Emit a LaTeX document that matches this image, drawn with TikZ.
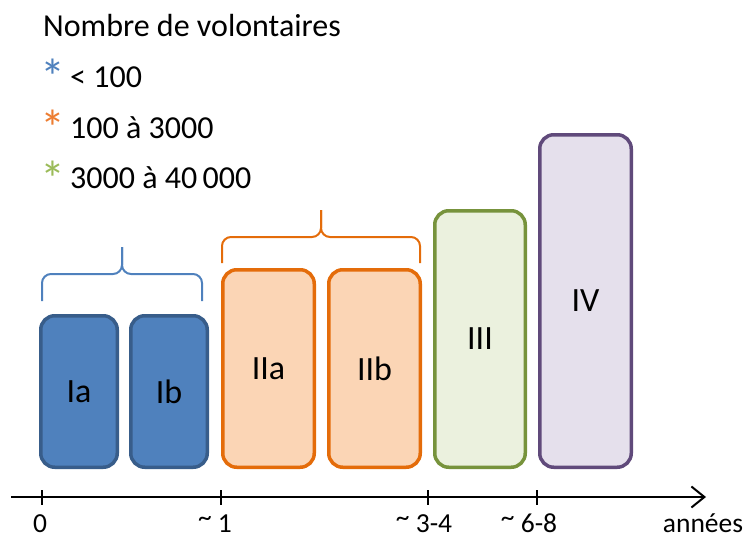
\documentclass[tikz,border=0pt]{standalone}
\usepackage{fontspec}
\setmainfont{Carlito}
\usetikzlibrary{arrows.meta}
\definecolor{phblue}{RGB}{79,129,189}
\definecolor{phbluedk}{RGB}{56,93,138}
\definecolor{phorange}{RGB}{251,213,181}
\definecolor{phorangedk}{RGB}{228,108,10}
\definecolor{phgreen}{RGB}{235,241,222}
\definecolor{phgreendk}{RGB}{119,147,60}
\definecolor{phpurple}{RGB}{229,224,236}
\definecolor{phpurpledk}{RGB}{96,74,123}
\definecolor{starblue}{RGB}{79,129,189}
\definecolor{starorange}{RGB}{237,125,49}
\definecolor{stargreen}{RGB}{155,187,89}

\newcommand{\approxmark}{\raisebox{0.22em}{\textasciitilde}\ }

\tikzset{
  phasebox/.style={draw, rounded corners=14pt, line width=3.5pt, inner sep=0pt,
    font=\fontsize{34}{40}\selectfont},
  legtext/.style={anchor=base west, inner sep=0pt, font=\fontsize{32}{38}\selectfont},
  legstar/.style={anchor=north, inner sep=0pt, font=\fontsize{50}{54}\selectfont},
  axlabel/.style={anchor=base, inner sep=0pt, font=\fontsize{27.5}{32}\selectfont},
  phbrace/.style={line width=2pt, rounded corners=9pt}
}

\begin{document}
\begin{tikzpicture}[x=1pt,y=-1pt]
  \useasboundingbox (0,0) rectangle (752,538);
  % legend
  \node[legtext] (legtitle) at (43,36) {Nombre de volontaires};
  \node[legstar, starblue] (star1) at (53,59) {*};
  \node[legtext] (leg1) at (70,87) {< 100};
  \node[legstar, starorange] (star2) at (53,110) {*};
  \node[legtext] (leg2) at (70,138) {100 à 3000};
  \node[legstar, stargreen] (star3) at (53,161) {*};
  \node[legtext] (leg3) at (70,188) {3000 à 40\,000};
  % phases
  \node[phasebox, fill=phblue, draw=phbluedk, minimum width=76.5pt, minimum height=151.5pt] (Ia) at (79,391.5) {Ia};
  \node[phasebox, fill=phblue, draw=phbluedk, minimum width=76.5pt, minimum height=151.5pt] (Ib) at (169,391.5) {Ib};
  \node[phasebox, fill=phorange, draw=phorangedk, minimum width=91.5pt, minimum height=197.5pt] (IIa) at (268.5,368.5) {IIa};
  \node[phasebox, fill=phorange, draw=phorangedk, minimum width=91.5pt, minimum height=197.5pt] (IIb) at (374.5,368.5) {IIb};
  \node[phasebox, fill=phgreen, draw=phgreendk, minimum width=90.5pt, minimum height=256.5pt] (III) at (480,339) {III};
  \node[phasebox, fill=phpurple, draw=phpurpledk, minimum width=91.5pt, minimum height=332.5pt] (IV) at (585.5,301) {IV};
  % braces
  \coordinate (bIl) at (42,301);
  \coordinate (bIr) at (202,301);
  \coordinate (bIm) at (122,274);
  \coordinate (bIt) at (122,247);
  \draw[phbrace, phblue] (bIl) -- (bIl |- bIm) -- (bIm) -- (bIt);
  \draw[phbrace, phblue] (bIr) -- (bIr |- bIm) -- (bIm) -- (bIt);
  \coordinate (bIIl) at (222,263);
  \coordinate (bIIr) at (420,263);
  \coordinate (bIIm) at (321,237);
  \coordinate (bIIt) at (321,210);
  \draw[phbrace, phorangedk] (bIIl) -- (bIIl |- bIIm) -- (bIIm) -- (bIIt);
  \draw[phbrace, phorangedk] (bIIr) -- (bIIr |- bIIm) -- (bIIm) -- (bIIt);
  % time axis
  \coordinate (axstart) at (11,497);
  \coordinate (axend) at (706,497);
  \draw[line width=2pt, -{Straight Barb[length=13pt,width=21pt]}] (axstart) -- (axend);
  \foreach \tx/\lx/\lab/\nm in {42/40/0/t0, 221/215/{\approxmark 1}/t1,
      428/424/{\approxmark 3-4}/t34, 537/529/{\approxmark 6-8}/t68} {
    \draw[line width=2pt] (\tx,490) -- (\tx,505);
    \node[axlabel] (\nm) at (\lx,532.5) {\lab};
  }
  \node[axlabel] (years) at (703,532.5) {années};
\end{tikzpicture}
\end{document}
